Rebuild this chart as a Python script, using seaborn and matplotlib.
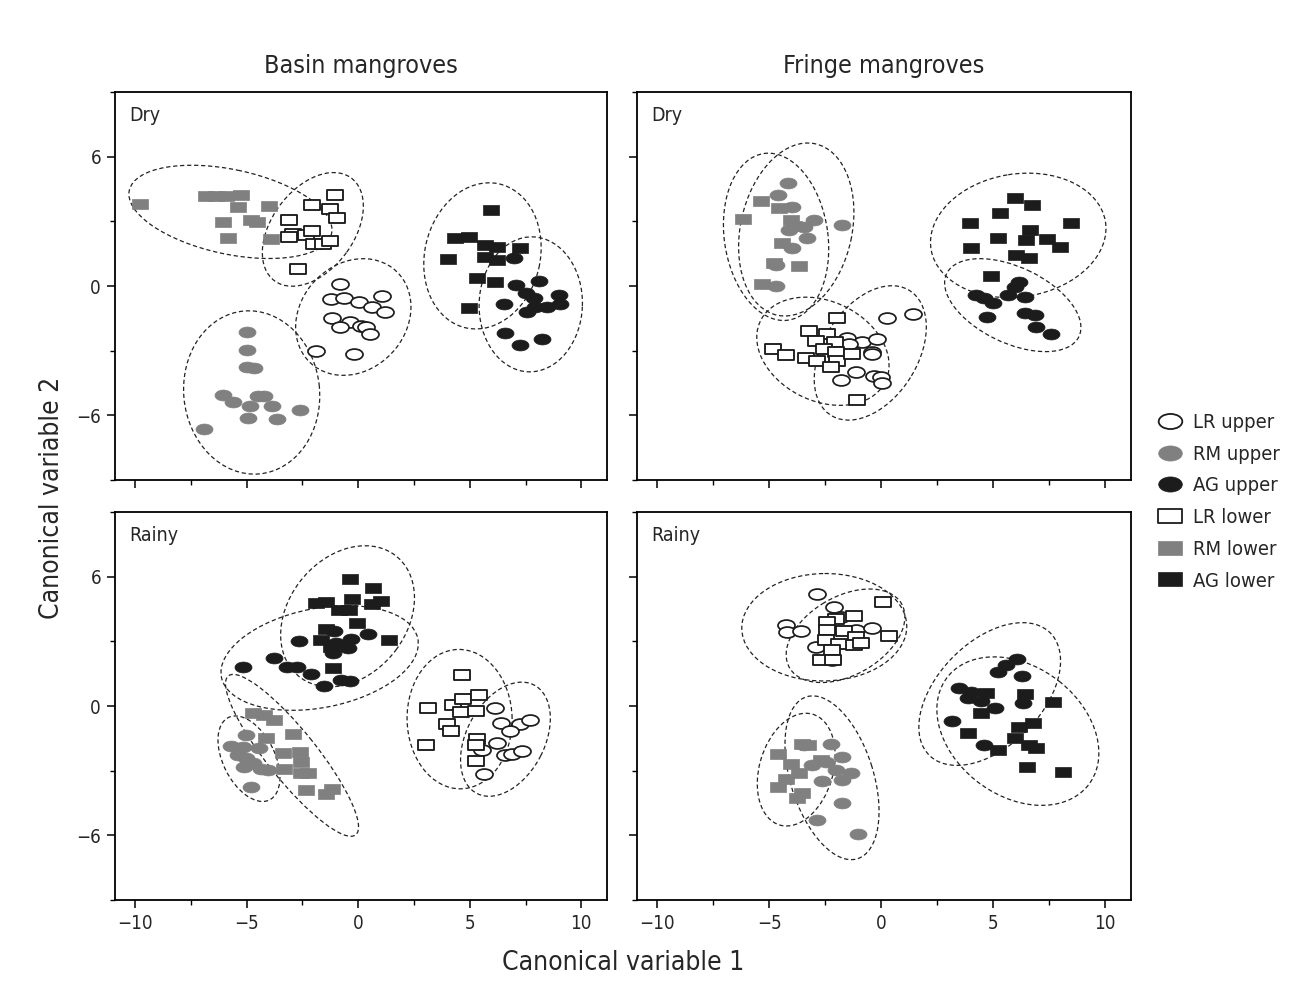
import numpy as np
import pandas as pd
import matplotlib
matplotlib.use("Agg")
import matplotlib.pyplot as plt
from matplotlib.path import Path
from matplotlib.patches import Ellipse
from matplotlib.lines import Line2D
from matplotlib.ticker import MultipleLocator
from matplotlib import font_manager as fm
import seaborn as sns

# ---------------- data ----------------
GROUPS = ["LR upper", "RM upper", "AG upper", "LR lower", "RM lower", "AG lower"]
PANELS = ["Basin Dry", "Fringe Dry", "Basin Rainy", "Fringe Rainy"]

# Basin mangroves, dry season
BD_LRU_X = [-0.83, -1.23, -0.64, 0.04, 0.64, 1.05, 1.19, -1.19, -0.37, -0.83, 0.11, 0.34, 0.53, -1.90, -0.21]
BD_LRU_Y = [0.09, -0.60, -0.57, -0.73, -0.99, -0.45, -1.19, -1.47, -1.65, -1.89, -1.84, -1.89, -2.24, -3.01, -3.15]
BD_RMU_X = [-4.99, -4.99, -4.99, -4.69, -6.08, -5.63, -4.84, -4.51, -4.21, -3.87, -4.93, -3.62, -2.60, -6.90]
BD_RMU_Y = [-2.12, -2.96, -3.74, -3.81, -5.05, -5.40, -5.59, -5.09, -5.12, -5.59, -6.13, -6.17, -5.74, -6.64]
BD_AGU_X = [6.97, 7.09, 8.12, 7.54, 7.87, 8.98, 9.06, 6.55, 7.57, 7.94, 8.47, 6.60, 7.27, 8.24]
BD_AGU_Y = [1.28, 0.05, 0.24, -0.34, -0.57, -0.42, -0.83, -0.83, -1.19, -0.96, -0.96, -2.19, -2.73, -2.47]
BD_LRL_X = [-1.05, -2.05, -1.26, -0.93, -3.12, -2.94, -3.12, -2.32, -2.08, -1.98, -1.60, -1.26, -2.72]
BD_LRL_Y = [4.20, 3.77, 3.55, 3.16, 3.08, 2.42, 2.27, 2.38, 2.53, 1.95, 1.95, 2.08, 0.80]
BD_RML_X = [-9.78, -6.82, -6.38, -5.93, -5.26, -5.39, -4.00, -6.06, -4.81, -4.54, -5.84, -3.91]
BD_RML_Y = [3.80, 4.17, 4.17, 4.17, 4.21, 3.66, 3.70, 2.96, 3.06, 2.96, 2.22, 2.18]
BD_AGL_X = [5.96, 4.32, 4.96, 5.70, 6.23, 7.27, 5.70, 6.23, 4.02, 5.33, 6.15, 4.96]
BD_AGL_Y = [3.52, 2.21, 2.28, 1.90, 1.82, 1.74, 1.36, 1.20, 1.24, 0.36, 0.17, -1.03]

# Fringe mangroves, dry season
FD_LRU_X = [0.24, 1.40, -1.51, -0.84, -0.17, -1.43, -0.42, -0.39, -1.13, -1.80, -0.31, -0.01, 0.03]
FD_LRU_Y = [-1.47, -1.31, -2.42, -2.58, -2.45, -2.71, -3.04, -3.16, -4.00, -4.35, -4.17, -4.20, -4.50]
FD_RMU_X = [-4.15, -4.60, -3.97, -3.00, -4.12, -3.30, -3.97, -1.73, -4.71, -4.71, -3.45]
FD_RMU_Y = [4.80, 4.21, 3.67, 3.06, 2.59, 2.21, 1.75, 2.82, 0.97, 0.00, 2.75]
FD_AGU_X = [4.24, 4.61, 4.98, 6.17, 5.95, 5.65, 6.40, 6.40, 6.85, 6.92, 7.59, 4.71]
FD_AGU_Y = [-0.42, -0.57, -0.77, 0.20, -0.03, -0.42, -0.50, -1.24, -1.34, -1.88, -2.24, -1.45]
FD_LRL_X = [-1.98, -3.22, -2.40, -2.92, -2.06, -4.83, -4.26, -3.37, -2.85, -2.55, -2.00, -1.96, -2.25, -1.31, -1.06]
FD_LRL_Y = [-1.47, -2.08, -2.24, -2.55, -2.58, -2.92, -3.19, -3.32, -3.46, -2.92, -3.04, -3.46, -3.74, -3.16, -5.28]
FD_RML_X = [-5.38, -6.17, -4.56, -4.04, -4.42, -4.79, -3.67, -5.31, -3.89]
FD_RML_Y = [3.94, 3.10, 3.61, 3.06, 1.98, 1.05, 0.93, 0.08, 2.78]
FD_AGL_X = [5.95, 6.74, 5.32, 3.97, 8.49, 6.62, 5.23, 6.47, 7.40, 7.96, 4.01, 6.00, 6.59, 4.88]
FD_AGL_Y = [4.06, 3.75, 3.37, 2.93, 2.90, 2.59, 2.21, 2.13, 2.16, 1.82, 1.77, 1.44, 1.28, 0.46]

# Basin mangroves, rainy season
BR_LRU_X = [6.15, 6.41, 7.27, 7.72, 6.79, 6.20, 5.56, 6.60, 6.90, 7.35, 5.63]
BR_LRU_Y = [-0.08, -0.77, -0.83, -0.65, -1.14, -1.73, -2.04, -2.27, -2.22, -2.07, -3.15]
BR_RMU_X = [-5.03, -5.70, -5.18, -4.44, -5.40, -5.03, -4.73, -5.11, -4.36, -4.06, -4.81]
BR_RMU_Y = [-1.34, -1.85, -1.88, -1.95, -2.27, -2.42, -2.65, -2.84, -2.93, -2.99, -3.78]
BR_AGU_X = [-1.08, -2.65, -0.34, 0.46, -1.01, -0.48, -1.15, -3.77, -5.18, -3.17, -2.75, -2.13, -0.78, -0.37, -1.53]
BR_AGU_Y = [3.47, 3.01, 3.09, 3.36, 2.90, 2.67, 2.44, 2.24, 1.82, 1.82, 1.82, 1.48, 1.20, 1.16, 0.93]
BR_LRL_X = [4.66, 3.12, 4.26, 4.71, 5.40, 4.62, 5.26, 3.96, 4.17, 3.02, 5.33, 5.26, 5.30]
BR_LRL_Y = [1.43, -0.11, 0.05, 0.31, 0.51, -0.26, -0.22, -0.83, -1.14, -1.80, -1.53, -1.80, -2.53]
BR_RML_X = [-4.73, -4.21, -3.77, -4.14, -2.94, -3.39, -2.62, -2.57, -3.32, -2.57, -2.27, -2.35, -1.45, -1.19]
BR_RML_Y = [-0.31, -0.42, -0.65, -1.50, -1.31, -2.19, -2.12, -2.58, -2.92, -3.12, -3.09, -3.89, -4.09, -3.86]
BR_AGL_X = [-0.38, 0.66, -1.90, -1.45, -0.29, 1.01, 0.64, -0.86, -0.41, -0.04, -1.45, -1.68, 1.38, -1.15, -1.23]
BR_AGL_Y = [5.88, 5.49, 4.78, 4.83, 4.95, 4.86, 4.71, 4.44, 4.47, 3.85, 3.56, 3.06, 3.06, 1.75, 2.75]

# Fringe mangroves, rainy season
FR_LRU_X = [-2.85, -2.10, -4.26, -4.19, -3.59, -1.13, -0.39, -2.92, -2.18, -1.80]
FR_LRU_Y = [5.18, 4.57, 3.75, 3.44, 3.47, 3.52, 3.60, 2.75, 2.13, 4.13]
FR_RMU_X = [-3.45, -2.25, -3.07, -2.47, -1.73, -2.03, -2.63, -1.73, -1.36, -1.76, -2.85, -1.02]
FR_RMU_Y = [-1.81, -1.76, -2.73, -2.58, -2.35, -2.96, -3.50, -3.43, -3.12, -4.48, -5.31, -5.93]
FR_AGU_X = [6.07, 5.58, 5.20, 6.30, 3.49, 4.01, 3.86, 4.46, 5.06, 6.32, 3.15, 4.61]
FR_AGU_Y = [2.19, 1.92, 1.58, 1.39, 0.82, 0.66, 0.36, 0.23, -0.08, 0.12, -0.69, -1.83]
FR_LRL_X = [0.06, -2.03, -1.21, -2.40, -1.66, -2.40, -1.13, 0.36, -2.47, -1.88, -1.21, -0.91, -2.18, -2.67, -2.15]
FR_LRL_Y = [4.81, 4.04, 4.17, 3.88, 3.49, 3.52, 3.19, 3.24, 3.05, 2.87, 2.82, 2.90, 2.62, 2.13, 2.13]
FR_RML_X = [-3.52, -3.27, -4.61, -4.04, -4.26, -4.60, -3.52, -3.74, -2.70, -3.67]
FR_RML_Y = [-1.76, -1.81, -2.22, -2.69, -3.39, -3.74, -4.03, -4.29, -2.50, -3.09]
FR_AGL_X = [4.68, 6.44, 7.66, 4.46, 6.77, 6.17, 3.86, 5.95, 6.58, 6.92, 5.20, 6.49, 8.11]
FR_AGL_Y = [0.61, 0.54, 0.20, -0.34, -0.80, -0.96, -1.26, -1.49, -1.81, -1.96, -2.04, -2.81, -3.04]

SERIES = {
    "Basin Dry": [(BD_LRU_X, BD_LRU_Y), (BD_RMU_X, BD_RMU_Y), (BD_AGU_X, BD_AGU_Y),
                  (BD_LRL_X, BD_LRL_Y), (BD_RML_X, BD_RML_Y), (BD_AGL_X, BD_AGL_Y)],
    "Fringe Dry": [(FD_LRU_X, FD_LRU_Y), (FD_RMU_X, FD_RMU_Y), (FD_AGU_X, FD_AGU_Y),
                   (FD_LRL_X, FD_LRL_Y), (FD_RML_X, FD_RML_Y), (FD_AGL_X, FD_AGL_Y)],
    "Basin Rainy": [(BR_LRU_X, BR_LRU_Y), (BR_RMU_X, BR_RMU_Y), (BR_AGU_X, BR_AGU_Y),
                    (BR_LRL_X, BR_LRL_Y), (BR_RML_X, BR_RML_Y), (BR_AGL_X, BR_AGL_Y)],
    "Fringe Rainy": [(FR_LRU_X, FR_LRU_Y), (FR_RMU_X, FR_RMU_Y), (FR_AGU_X, FR_AGU_Y),
                     (FR_LRL_X, FR_LRL_Y), (FR_RML_X, FR_RML_Y), (FR_AGL_X, FR_AGL_Y)],
}

rows = []
for panel, lst in SERIES.items():
    for g, (xs, ys) in zip(GROUPS, lst):
        for x, y in zip(xs, ys):
            rows.append({"panel": panel, "group": g, "x": x, "y": y})
df = pd.DataFrame(rows)

# ---------------- styling ----------------
sns.set_theme(style="ticks")
names = {f.name for f in fm.fontManager.ttflist}
FAM = "Liberation Sans Narrow" if "Liberation Sans Narrow" in names else "DejaVu Sans"
plt.rcParams["font.family"] = [FAM, "DejaVu Sans"]
if FAM == "DejaVu Sans":
    plt.rcParams["font.stretch"] = "condensed"

ell = Path.unit_circle().transformed(matplotlib.transforms.Affine2D().scale(1.0, 0.64))
rect = Path([(-1, -0.6), (1, -0.6), (1, 0.6), (-1, 0.6), (-1, -0.6)],
            [Path.MOVETO, Path.LINETO, Path.LINETO, Path.LINETO, Path.CLOSEPOLY])

GREY = "#808080"
BLACK = "#1c1c1c"
STYLE = {
    "LR upper": dict(marker=ell, face="white", edge=BLACK, s=150, lw=1.25),
    "RM upper": dict(marker=ell, face=GREY, edge=GREY, s=150, lw=0.5),
    "AG upper": dict(marker=ell, face=BLACK, edge=BLACK, s=150, lw=0.5),
    "LR lower": dict(marker=rect, face="white", edge=BLACK, s=128, lw=1.35),
    "RM lower": dict(marker=rect, face=GREY, edge=GREY, s=128, lw=0.5),
    "AG lower": dict(marker=rect, face=BLACK, edge=BLACK, s=128, lw=0.5),
}

W, H = 1303, 989
fig = plt.figure(figsize=(W / 100, H / 100), dpi=100)
boxes = {
    "Basin Dry": (115, 92, 607, 480),
    "Fringe Dry": (637, 92, 1131, 480),
    "Basin Rainy": (115, 512, 607, 900),
    "Fringe Rainy": (637, 512, 1131, 900),
}
axes = {}
for p, (l, t, r, b) in boxes.items():
    axes[p] = fig.add_axes([l / W, 1 - b / H, (r - l) / W, (b - t) / H])

N_STD = 2.9
for p, ax in axes.items():
    sub = df[df.panel == p]
    for g in GROUPS:
        d = sub[sub.group == g]
        # confidence ellipse computed from the points of the group
        cov = np.cov(d.x, d.y)
        vals, vecs = np.linalg.eigh(cov)
        order = vals.argsort()[::-1]
        vals, vecs = vals[order], vecs[:, order]
        ang = np.degrees(np.arctan2(vecs[1, 0], vecs[0, 0]))
        e = Ellipse((d.x.mean(), d.y.mean()), 2 * N_STD * np.sqrt(vals[0]),
                    2 * N_STD * np.sqrt(vals[1]), angle=ang, fill=False,
                    edgecolor="#222222", lw=0.9, ls=(0, (3.4, 2.2)), zorder=1)
        ax.add_patch(e)
    for g in GROUPS:
        d = sub[sub.group == g]
        st = STYLE[g]
        sns.scatterplot(data=d, x="x", y="y", ax=ax, marker=st["marker"], s=st["s"],
                        color=st["face"], edgecolor=st["edge"], linewidth=st["lw"],
                        legend=False, zorder=3)
    ax.set_xlim(-10.9, 11.15)
    ax.set_ylim(-9, 9)
    ax.xaxis.set_minor_locator(MultipleLocator(2.5))
    ax.yaxis.set_minor_locator(MultipleLocator(3))
    ax.tick_params(which="major", direction="out", length=6, width=1.1, color="black",
                   labelsize=13.5, pad=4)
    ax.tick_params(which="minor", direction="out", length=3.5, width=1.0, color="black")
    ax.set_xlabel("")
    ax.set_ylabel("")
    for s in ax.spines.values():
        s.set_linewidth(1.3)
        s.set_color("black")
    ax.set_xticks([-10, -5, 0, 5, 10])
    ax.set_xticklabels(["\u221210", "\u22125", "0", "5", "10"])
    ax.set_yticks([-6, 0, 6])
    ax.set_yticklabels(["\u22126", "0", "6"])
    if p.startswith("Fringe"):
        ax.tick_params(labelleft=False)
    if p.endswith("Dry"):
        ax.tick_params(labelbottom=False)
    season = p.split()[1]
    ax.text(0.028, 0.965, season, transform=ax.transAxes, ha="left", va="top",
            fontsize=14)

axes["Basin Dry"].set_title("Basin mangroves", fontsize=18, pad=14)
axes["Fringe Dry"].set_title("Fringe mangroves", fontsize=18, pad=14)

fig.text(623 / W, 1 - 963 / H, "Canonical variable 1", ha="center", va="center", fontsize=19)
fig.text(52 / W, 1 - 498 / H, "Canonical variable 2", ha="center", va="center",
         rotation=90, fontsize=19)

handles = []
for g in GROUPS:
    st = STYLE[g]
    handles.append(Line2D([], [], ls="none", marker=st["marker"], markersize=17,
                          markerfacecolor=st["face"], markeredgecolor=st["edge"],
                          markeredgewidth=1.3 if st["face"] == "white" else 0.5))
fig.legend(handles, GROUPS, loc="upper left", bbox_to_anchor=(1147 / W, 1 - 403 / H),
           frameon=False, fontsize=14.5, handlelength=1.3, handletextpad=0.5,
           labelspacing=0.63, borderpad=0)

fig.savefig("out.png", dpi=100)
